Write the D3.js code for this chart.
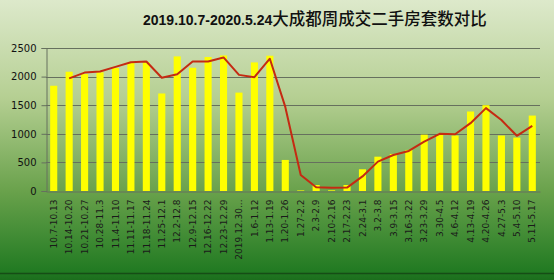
<!DOCTYPE html>
<html>
<head>
<meta charset="utf-8">
<script src="https://cdn.jsdelivr.net/npm/d3@7"></script>
<style>
  body { margin: 0; }
  svg { display: block; }
</style>
</head>
<body>
<svg id="chart"></svg>
<script>
const weeks = [
  '10.7-10.13', '10.14-10.20', '10.21-10.27', '10.28-11.3', '11.4-11.10',
  '11.11-11.17', '11.18-11.24', '11.25-12.1', '12.2-12.8', '12.9-12.15',
  '12.16-12.22', '12.23-12.29', '2019.12.30...', '1.6-1.12', '1.13-1.19',
  '1.20-1.26', '1.27-2.2', '2.3-2.9', '2.10-2.16', '2.17-2.23', '2.24-3.1',
  '3.2-3.8', '3.9-3.15', '3.16-3.22', '3.23-3.29', '3.30-4.5', '4.6-4.12',
  '4.13-4.19', '4.20-4.26', '4.27-5.3', '5.4-5.10', '5.11-5.17'
];
const sales = [
  1840, 2085, 2045, 2075, 2150, 2237, 2250, 1705, 2353, 2155,
  2342, 2370, 1720, 2248, 2365, 543, 10, 105, 12, 105, 380,
  600, 648, 718, 985, 981, 970, 1390, 1500, 970, 934, 1319
];
// trend line starts at the second week
const trend = [
  null, 1970, 2070, 2090, 2170, 2250, 2265, 1980, 2040, 2265,
  2265, 2335, 2030, 1990, 2313, 1470, 280, 65, 58, 60, 255,
  514, 630, 700, 864, 1000, 993, 1186, 1449, 1240, 965, 1139
];
const yTicks = [0, 500, 1000, 1500, 2000, 2500];
const title = '2019.10.7-2020.5.24';
const titleCn = '大成都周成交二手房套数对比';

const width = 554, height = 280;
const margin = { top: 48, right: 14, bottom: 89, left: 46 };

const svg = d3.select('#chart').attr('width', width).attr('height', height);

const grad = svg.append('defs').append('linearGradient')
  .attr('id', 'bg').attr('x1', 0).attr('y1', 0).attr('x2', 0).attr('y2', 1);
grad.append('stop').attr('offset', '0%').attr('stop-color', '#dde9cb');
grad.append('stop').attr('offset', '35%').attr('stop-color', '#b5cf92');
grad.append('stop').attr('offset', '68%').attr('stop-color', '#6aa24c');
grad.append('stop').attr('offset', '97%').attr('stop-color', '#217a22');
grad.append('stop').attr('offset', '100%').attr('stop-color', '#1c6e1d');

svg.append('rect').attr('width', width).attr('height', height).attr('fill', 'url(#bg)');
svg.append('line')
  .attr('x1', 0).attr('x2', width).attr('y1', 273.5).attr('y2', 273.5)
  .attr('stroke', '#164d16').attr('stroke-width', 1.5);

const x = d3.scaleBand()
  .domain(weeks)
  .range([margin.left, width - margin.right])
  .paddingInner(0.54)
  .paddingOuter(0.27);

const y = d3.scaleLinear()
  .domain([0, 2500])
  .range([height - margin.bottom, margin.top]);

// gridlines
svg.append('g')
  .selectAll('line')
  .data(yTicks.slice(1))
  .join('line')
  .attr('x1', margin.left).attr('x2', width - margin.right)
  .attr('y1', d => Math.round(y(d)) + 0.5).attr('y2', d => Math.round(y(d)) + 0.5)
  .attr('stroke', '#66705e').attr('stroke-width', 1);

// y axis
const yAxis = svg.append('g')
  .attr('transform', `translate(${margin.left + 0.5},0)`)
  .call(d3.axisLeft(y).tickValues(yTicks).tickFormat(d3.format('d')).tickSize(5).tickPadding(5));
yAxis.select('.domain').attr('stroke', '#66705e');
yAxis.selectAll('.tick line').attr('stroke', '#66705e');
yAxis.selectAll('text')
  .attr('font-family', 'DejaVu Sans').attr('font-size', 10).attr('fill', '#111');

// bars
svg.append('g')
  .selectAll('rect')
  .data(sales)
  .join('rect')
  .attr('x', (d, i) => x(weeks[i]))
  .attr('y', d => y(d))
  .attr('width', x.bandwidth())
  .attr('height', d => y(0) - y(d))
  .attr('fill', '#ffff00');

// x axis
const xAxis = svg.append('g')
  .attr('transform', `translate(0,${y(0) + 0.5})`)
  .call(d3.axisBottom(x).tickSize(0).tickPadding(0));
xAxis.select('.domain').attr('stroke', '#66705e');
xAxis.selectAll('text')
  .attr('transform', 'rotate(-90)')
  .attr('text-anchor', 'end')
  .attr('x', -8)
  .attr('y', 0)
  .attr('dy', '0.35em')
  .attr('font-family', 'DejaVu Sans')
  .attr('font-size', 9)
  .attr('fill', '#1a1a1a');

// trend line
const line = d3.line()
  .defined(d => d != null)
  .x((d, i) => x(weeks[i]) + x.bandwidth() / 2)
  .y(d => y(d));

svg.append('path')
  .datum(trend)
  .attr('fill', 'none')
  .attr('stroke', '#c52a12')
  .attr('stroke-width', 2)
  .attr('stroke-linejoin', 'round')
  .attr('d', line);

// title
const t = svg.append('text')
  .attr('x', 143).attr('y', 25)
  .attr('fill', '#111');
t.append('tspan')
  .attr('font-family', 'Liberation Sans').attr('font-weight', 'bold').attr('font-size', 14)
  .text(title);
t.append('tspan')
  .attr('font-family', 'Noto Sans CJK SC').attr('font-weight', 500).attr('font-size', 16.5)
  .text(titleCn);
</script>
</body>
</html>
